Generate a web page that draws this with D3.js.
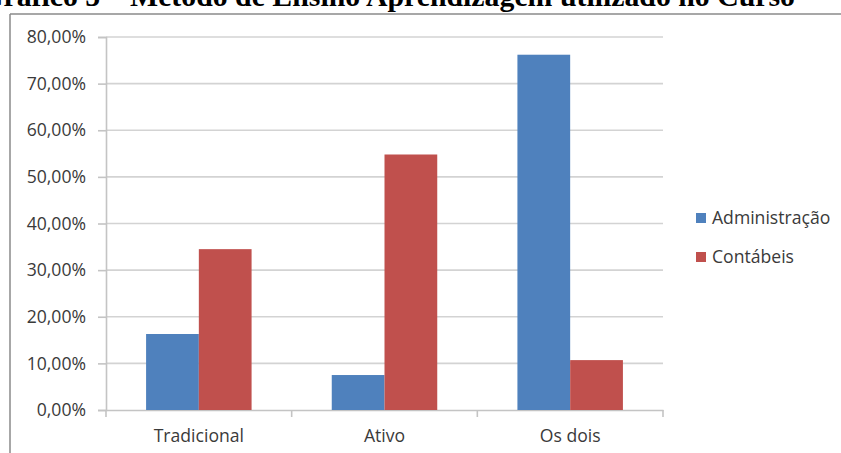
<!DOCTYPE html>
<html><head><meta charset="utf-8">
<script src="https://cdn.jsdelivr.net/npm/d3@7"></script>
<style>
html,body{margin:0;padding:0;background:#fff;overflow:hidden;}
svg{display:block;}
</style></head>
<body>
<svg id="chart" width="841" height="453"></svg>
<script>
const categories = ["Tradicional", "Ativo", "Os dois"];
const seriesNames = ["Administração", "Contábeis"];
const administracao = [0.163, 0.075, 0.762];
const contabeis = [0.345, 0.548, 0.107];
const yTicks = [0, 0.1, 0.2, 0.3, 0.4, 0.5, 0.6, 0.7, 0.8];
const colors = ["#4F81BD", "#C0504D"];
const title = "Gráfico 5 – Método de Ensino Aprendizagem utilizado no Curso";

(function(){
const svg = d3.select("#chart");
const font = "'Open Sans', Lato, sans-serif";
const fs = 17.6;

svg.append("text").attr("x", 795).attr("y", 6).attr("text-anchor", "end")
  .attr("font-family", "'Liberation Serif', 'Times New Roman', serif")
  .attr("font-weight", "bold").attr("font-size", 29.8).attr("fill", "#000")
  .text(title);

svg.append("line").attr("x1", 10).attr("x2", 841).attr("y1", 14).attr("y2", 14)
  .attr("stroke", "#8a8a8a").attr("stroke-width", 1.5);
svg.append("line").attr("x1", 10).attr("x2", 10).attr("y1", 14).attr("y2", 453)
  .attr("stroke", "#8a8a8a").attr("stroke-width", 1.5);

const pL = 106, pR = 663, pT = 37, pB = 410;
const y = d3.scaleLinear().domain([0, 0.8]).range([pB, pT]);
const x0 = d3.scaleBand().domain(categories).range([pL, pR]).paddingInner(0).paddingOuter(0);
const x1 = d3.scaleBand().domain(seriesNames).range([0, x0.bandwidth()]).paddingInner(0).paddingOuter(0.76);

svg.append("g").selectAll("line").data(yTicks.filter(d => d > 0)).join("line")
  .attr("x1", pL).attr("x2", pR)
  .attr("y1", d => y(d)).attr("y2", d => y(d))
  .attr("stroke", "#d3d3d3").attr("stroke-width", 1.6);

const fmt = d => (d * 100).toFixed(2).replace(".", ",") + "%";
const yAxis = d3.axisLeft(y).tickValues(yTicks).tickFormat(fmt).tickSize(8).tickPadding(12);
const gy = svg.append("g").attr("transform", `translate(${pL},0)`).call(yAxis);
gy.select(".domain").attr("stroke", "#c4c4c4").attr("stroke-width", 1.6);
gy.selectAll(".tick line").attr("stroke", "#c4c4c4").attr("stroke-width", 1.6);
gy.selectAll(".tick text").attr("font-family", font).attr("font-size", fs).attr("fill", "#3a3a3a");

const xAxis = d3.axisBottom(x0).tickSize(0).tickPadding(20);
const gx = svg.append("g").attr("transform", `translate(0,${pB})`).call(xAxis);
gx.select(".domain").attr("stroke", "#c4c4c4").attr("stroke-width", 1.6);
gx.selectAll(".tick text").attr("font-family", font).attr("font-size", fs).attr("fill", "#3a3a3a");
const bounds = categories.map(c => x0(c)).concat([pR]);
gx.append("g").selectAll("line").data(bounds).join("line")
  .attr("x1", d => d).attr("x2", d => d).attr("y1", 0).attr("y2", 7)
  .attr("stroke", "#c4c4c4").attr("stroke-width", 1.6);

const data = categories.map((c, i) => ({cat: c, vals: [administracao[i], contabeis[i]]}));
const groups = svg.append("g").selectAll("g").data(data).join("g")
  .attr("transform", d => `translate(${x0(d.cat)},0)`);
groups.selectAll("rect").data(d => d.vals.map((v, j) => ({v, s: seriesNames[j], j}))).join("rect")
  .attr("x", d => x1(d.s)).attr("width", x1.bandwidth())
  .attr("y", d => y(d.v)).attr("height", d => pB - y(d.v))
  .attr("fill", d => colors[d.j]);

const lg = svg.append("g").attr("transform", "translate(696,0)");
const ly = [218, 257];
seriesNames.forEach((s, i) => {
  lg.append("rect").attr("x", 0).attr("y", ly[i] - 5).attr("width", 10).attr("height", 10).attr("fill", colors[i]);
  lg.append("text").attr("x", 16).attr("y", ly[i]).attr("dy", "0.35em")
    .attr("font-family", font).attr("font-size", fs).attr("fill", "#3a3a3a").text(s);
});
})();
</script>
</body></html>
